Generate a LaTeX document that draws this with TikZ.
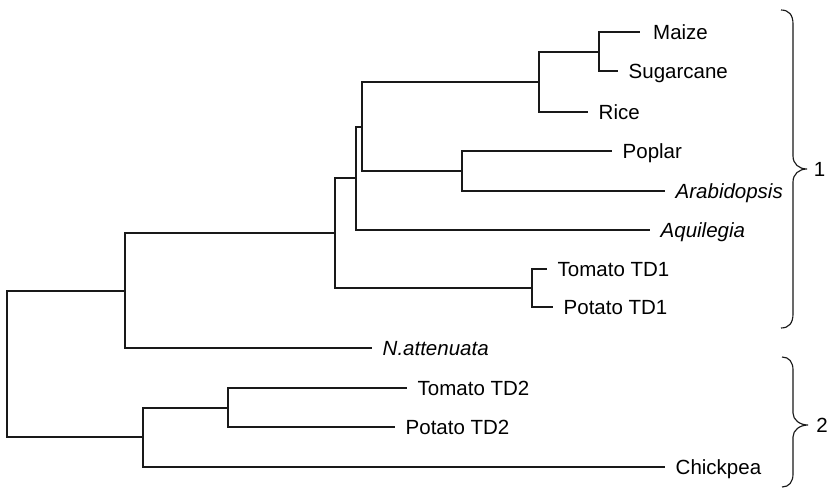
\documentclass[tikz,border=0pt]{standalone}
\usepackage{fontspec}
\setmainfont{Liberation Sans}
\begin{document}
\begin{tikzpicture}[x=1pt,y=-1pt,
  edge/.style={draw=black!90,line width=1.15pt},
  leaf/.style={anchor=west,inner xsep=10.5pt,inner ysep=0pt,text height=14.7pt,text depth=0pt,
    font=\fontsize{20.5}{24}\selectfont},
  grp/.style={inner sep=0pt,text height=14.7pt,text depth=0pt,font=\fontsize{20.5}{24}\selectfont},
  brc/.style={draw=black!90,line width=1.15pt}]
\useasboundingbox (0,0) rectangle (828,490);
% leaves
\node[leaf,inner xsep=13pt] (maize) at (640,32) {Maize};
\node[leaf] (sugar) at (618,71) {Sugarcane};
\node[leaf] (rice) at (588,112) {Rice};
\node[leaf] (poplar) at (612,151) {Poplar};
\node[leaf] (arab) at (665,191) {\itshape Arabidopsis};
\node[leaf] (aqui) at (650,230) {\itshape Aquilegia};
\node[leaf] (tom1) at (547,269) {Tomato TD1};
\node[leaf] (pot1) at (553,307) {Potato TD1};
\node[leaf] (natt) at (372,348) {\itshape N.attenuata};
\node[leaf] (tom2) at (407,388) {Tomato TD2};
\node[leaf] (pot2) at (395,427) {Potato TD2};
\node[leaf] (chick) at (665,467) {Chickpea};
% internal nodes
\coordinate (nMS) at (599,52);
\coordinate (nGrass) at (539,82);
\coordinate (nPA) at (462,171);
\coordinate (nGP) at (362,127);
\coordinate (nAq) at (356,178);
\coordinate (nTD1) at (532,288);
\coordinate (nA) at (335,233);
\coordinate (nB) at (125,291);
\coordinate (nTD2) at (228,408);
\coordinate (nC) at (143,437);
\coordinate (root) at (7,364);
% edges
\draw[edge] (nMS) |- (maize.west);
\draw[edge] (nMS) |- (sugar.west);
\draw[edge] (nGrass) |- (nMS);
\draw[edge] (nGrass) |- (rice.west);
\draw[edge] (nPA) |- (poplar.west);
\draw[edge] (nPA) |- (arab.west);
\draw[edge] (nGP) |- (nGrass);
\draw[edge] (nGP) |- (nPA);
\draw[edge] (nAq) |- (nGP);
\draw[edge] (nAq) |- (aqui.west);
\draw[edge] (nTD1) |- (tom1.west);
\draw[edge] (nTD1) |- (pot1.west);
\draw[edge] (nA) |- (nAq);
\draw[edge] (nA) |- (nTD1);
\draw[edge] (nB) |- (nA);
\draw[edge] (nB) |- (natt.west);
\draw[edge] (nTD2) |- (tom2.west);
\draw[edge] (nTD2) |- (pot2.west);
\draw[edge] (nC) |- (nTD2);
\draw[edge] (nC) |- (chick.west);
\draw[edge] (root) |- (nB);
\draw[edge] (root) |- (nC);
% braces
\draw[brc] (781,10) .. controls (789,10) and (793,15) .. (793,24) -- (793,156)
  .. controls (793,164) and (799,169) .. (807,169)
  .. controls (799,169) and (793,174) .. (793,182) -- (793,314)
  .. controls (793,323) and (789,328) .. (781,328);
\draw[brc] (782,357) .. controls (789,357) and (793,362) .. (793,370) -- (793,413)
  .. controls (793,420) and (800,425) .. (808,425)
  .. controls (800,425) and (793,430) .. (793,437) -- (793,474)
  .. controls (793,482) and (789,487) .. (782,487);
\node[grp] (g1) at (819.5,169) {1};
\node[grp] (g2) at (822,425) {2};
\end{tikzpicture}
\end{document}
